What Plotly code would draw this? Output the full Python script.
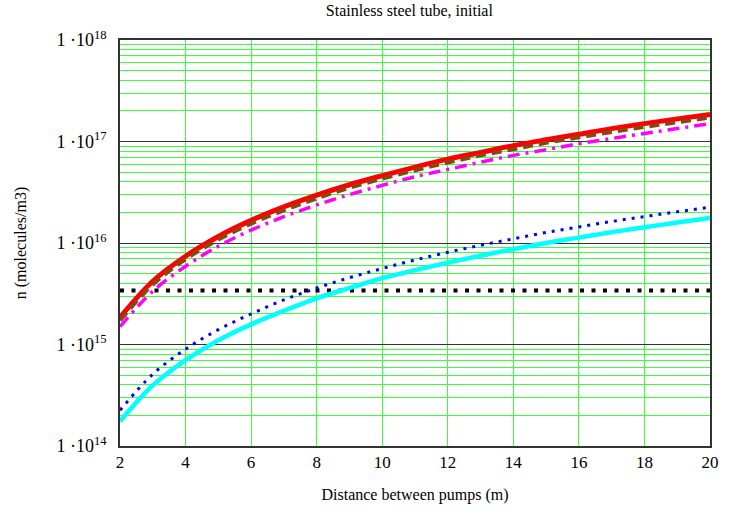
import plotly.graph_objects as go

x = [2, 3, 4, 5, 6, 7, 8, 9, 10, 11, 12, 13, 14, 15, 16, 17, 18, 19, 20]
red = [1.85e15, 4.2e15, 7.4e15, 1.16e16, 1.67e16, 2.27e16, 2.96e16, 3.75e16, 4.6e16, 5.6e16,
       6.7e16, 7.8e16, 9.1e16, 1.04e17, 1.18e17, 1.34e17, 1.5e17, 1.67e17, 1.85e17]
brown = [1.72e15, 3.9e15, 6.9e15, 1.08e16, 1.55e16, 2.1e16, 2.75e16, 3.5e16, 4.3e16, 5.2e16,
         6.2e16, 7.3e16, 8.4e16, 9.7e16, 1.1e17, 1.24e17, 1.39e17, 1.55e17, 1.72e17]
magenta = [1.5e15, 3.35e15, 5.9e15, 9.3e15, 1.34e16, 1.82e16, 2.37e16, 3.0e16, 3.7e16, 4.5e16,
           5.3e16, 6.25e16, 7.3e16, 8.3e16, 9.5e16, 1.07e17, 1.2e17, 1.34e17, 1.5e17]
blue = [2.25e14, 5.1e14, 9.0e14, 1.4e15, 2.0e15, 2.75e15, 3.6e15, 4.55e15, 5.6e15, 6.8e15,
        8.1e15, 9.5e15, 1.1e16, 1.27e16, 1.44e16, 1.63e16, 1.82e16, 2.03e16, 2.25e16]
cyan = [1.75e14, 3.95e14, 7.0e14, 1.1e15, 1.58e15, 2.15e15, 2.85e15, 3.6e15, 4.5e15, 5.4e15,
        6.4e15, 7.5e15, 8.7e15, 1.0e16, 1.13e16, 1.28e16, 1.43e16, 1.59e16, 1.76e16]
limit = [3.4e15] * len(x)

decades = [1e14, 1e15, 1e16, 1e17, 1e18]
decade_labels = ["1 ·10<sup>14</sup>", "1 ·10<sup>15</sup>", "1 ·10<sup>16</sup>",
                 "1 ·10<sup>17</sup>", "1 ·10<sup>18</sup>"]
mults = [2, 3, 4, 5, 6, 7, 8, 9]
minor_vals = [m * d for d in decades[:-1] for m in mults]
xticks = [2, 4, 6, 8, 10, 12, 14, 16, 18, 20]

FONT = "Liberation Serif, Times New Roman, Times, serif"
GREEN = "#3cff3c"

fig = go.Figure()
# anchor trace for the primary (labelled) axis
fig.add_trace(go.Scatter(x=[x[0]], y=[limit[0]], mode="markers", marker=dict(opacity=0),
                         hoverinfo="skip", xaxis="x", yaxis="y"))
common = dict(xaxis="x", yaxis="y2")
fig.add_trace(go.Scatter(x=x, y=limit, mode="lines",
                         line=dict(color="black", width=4, dash="4px,7.5px"), **common))
fig.add_trace(go.Scatter(x=x, y=cyan, mode="lines", line_shape="spline",
                         line=dict(color="#00ffff", width=4.5), **common))
fig.add_trace(go.Scatter(x=x, y=blue, mode="lines", line_shape="spline",
                         line=dict(color="#0000ff", width=3, dash="3px,6px"), **common))
fig.add_trace(go.Scatter(x=x, y=magenta, mode="lines", line_shape="spline",
                         line=dict(color="#ff00ff", width=3.5, dash="12px,6px,3px,6px"), **common))
fig.add_trace(go.Scatter(x=x, y=red, mode="lines", line_shape="spline",
                         line=dict(color="#ff0000", width=5), **common))
fig.add_trace(go.Scatter(x=x, y=brown, mode="lines", line_shape="spline",
                         line=dict(color="#8b4513", width=4, dash="10px,6px"), **common))

fig.update_layout(
    width=731, height=513,
    margin=dict(l=120, r=14, t=40, b=64),
    paper_bgcolor="white", plot_bgcolor="white",
    showlegend=False,
    font=dict(family=FONT, size=15, color="black"),
    title=dict(text="Stainless steel tube, initial", x=0.56, xanchor="center",
               y=0.99, yanchor="top", font=dict(family=FONT, size=16)),
    xaxis=dict(range=[2, 20], tickvals=xticks, showgrid=True, gridcolor=GREEN,
               gridwidth=1, showline=True, linecolor="#333333", linewidth=1.5, mirror=True,
               zeroline=False, ticks="", tickfont=dict(family=FONT, size=17),
               title=dict(text="Distance between pumps (m)", standoff=18,
                          font=dict(family=FONT, size=16))),
    yaxis=dict(type="log", range=[14, 18], tickvals=decades, ticktext=decade_labels,
               showgrid=True, gridcolor="#333333", gridwidth=1.3,
               showline=True, linecolor="#333333", linewidth=1.5, mirror=True,
               zeroline=False, ticks="", ticklabelstandoff=8,
               tickfont=dict(family=FONT, size=18),
               title=dict(text="n (molecules/m3)", standoff=26,
                          font=dict(family=FONT, size=16))),
    yaxis2=dict(type="log", range=[14, 18], overlaying="y", side="left",
                tickvals=minor_vals, showticklabels=False, showgrid=True,
                gridcolor=GREEN, gridwidth=1, zeroline=False, showline=False,
                ticks=""),
)

fig.write_html("out.html")
